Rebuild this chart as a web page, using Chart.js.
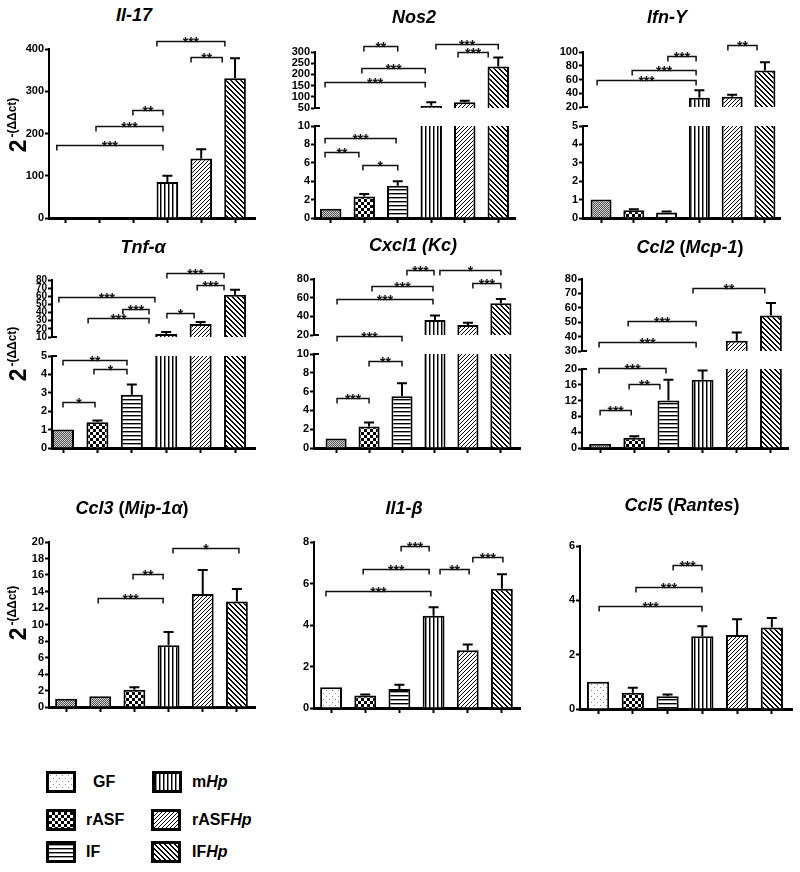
<!DOCTYPE html>
<html>
<head>
<meta charset="utf-8">
<script src="https://cdn.jsdelivr.net/npm/chart.js@4.4.0/dist/chart.umd.min.js"></script>
<style>
  body { margin: 0; width: 800px; height: 872px; background: #fff; position: relative; overflow: hidden;
         font-family: "Liberation Sans", Arial, sans-serif; color: #000; }
  canvas { position: absolute; }
  .title { position: absolute; font-weight: bold; font-size: 18px; line-height: 18px; white-space: nowrap;
           transform: translateX(-50%); }
  .ylab { position: absolute; white-space: nowrap; font-weight: bold; font-size: 23px;
          transform: translate(-50%, -50%) rotate(-90deg); }
  .ylab sup { font-size: 12px; vertical-align: 10px; margin-left: 2px; }
  .legbox { position: absolute; border: 3px solid #000; }
  .leglab { position: absolute; font-weight: bold; font-size: 16px; line-height: 16px; white-space: nowrap; }
</style>
</head>
<body>
<script>
const groups = ["GF", "rASF", "IF", "mHp", "rASFHp", "IFHp"];

// Il-17
const il17Values = [1, 0.9, 1.2, 85, 141, 331];
const il17Errors = [0, 0, 0, 15, 22, 47];
const il17Ticks = [0, 400, 100];
const il17Sig = [[-0.27, 2.87, 173, "***"], [0.89, 2.87, 218, "***"], [1.98, 2.87, 256, "**"],
                 [3.7, 4.62, 381, "**"], [2.69, 4.7, 419, "***"]];

// Nos2
const nos2Values = [1.0, 2.35, 3.5, 60, 76, 235];
const nos2Errors = [0, 0.25, 0.5, 16, 6, 40];
const nos2TicksHigh = [50, 300, 50];
const nos2TicksLow = [0, 10, 2];
const nos2SigHigh = [[0.99, 2.0, 325, "**"], [0.93, 2.82, 227, "***"], [-0.17, 2.82, 167, "***"],
                     [3.14, 5.0, 337, "***"], [3.8, 4.7, 299, "***"]];
const nos2SigLow = [[-0.17, 1.95, 8.7, "***"], [-0.17, 0.84, 7.2, "**"], [0.96, 2.0, 5.76, "*"]];

// Ifn-g
const ifngValues = [1.0, 0.42, 0.3, 33.5, 34.8, 73];
const ifngErrors = [0, 0.06, 0.05, 11, 3.2, 12];
const ifngTicksHigh = [20, 100, 20];
const ifngTicksLow = [0, 5, 1];
const ifngSigHigh = [[2.04, 2.9, 94.8, "***"], [0.95, 2.9, 73.4, "***"], [-0.12, 2.9, 60, "***"],
                     [3.87, 4.76, 110, "**"]];
const ifngSigLow = [];

// Tnf-a
const tnfValues = [1.0, 1.4, 2.9, 13.7, 26, 62];
const tnfErrors = [0, 0.1, 0.55, 2.3, 2.5, 6];
const tnfTicksHigh = [10, 80, 10];
const tnfTicksLow = [0, 5, 1];
const tnfSigHigh = [[3.02, 4.68, 89, "***"], [3.9, 4.68, 74, "***"], [-0.12, 2.67, 59, "***"],
                    [1.74, 2.5, 45, "***"], [0.73, 2.5, 33, "***"], [3.02, 3.81, 39, "*"]];
const tnfSigLow = [[0, 1.86, 4.8, "**"], [0.9, 1.86, 4.3, "*"], [0, 0.93, 2.48, "*"]];

// Cxcl1 (Kc)
const cxcl1Values = [1.0, 2.3, 5.5, 36.2, 30.6, 53.9];
const cxcl1Errors = [0, 0.4, 1.4, 4.8, 2.4, 4.8];
const cxcl1TicksHigh = [20, 80, 20];
const cxcl1TicksLow = [0, 10, 2];
const cxcl1SigHigh = [[2.15, 2.97, 89.7, "***"], [3.15, 5.0, 90, "*"], [1.09, 2.94, 72, "***"],
                      [4.15, 5.0, 76, "***"], [0.03, 2.94, 58.7, "***"], [0.03, 2.0, 18.4, "***"]];
const cxcl1SigLow = [[1.0, 2.0, 9.26, "**"], [0.03, 1.0, 5.3, "***"]];

// Ccl2 (Mcp-1)
const ccl2Values = [1.0, 2.6, 12.0, 17.3, 37.1, 54.7];
const ccl2Errors = [0, 0.4, 5.3, 2.3, 5.8, 8.6];
const ccl2TicksHigh = [30, 80, 10];
const ccl2TicksLow = [0, 20, 4];
const ccl2SigHigh = [[2.72, 4.82, 74, "**"], [0.82, 2.81, 50.9, "***"], [-0.03, 2.81, 36, "***"]];
const ccl2SigLow = [[-0.03, 1.93, 20.25, "***"], [0.85, 1.75, 16.2, "**"], [0, 0.91, 9.7, "***"]];

// Ccl3 (Mip-1a)
const ccl3Values = [1.0, 1.3, 2.1, 7.5, 13.7, 12.8];
const ccl3Errors = [0, 0, 0.3, 1.6, 2.9, 1.5];
const ccl3Ticks = [0, 20, 2];
const ccl3Sig = [[3.13, 5.06, 19.3, "*"], [1.96, 2.84, 16.1, "**"], [0.94, 2.84, 13.2, "***"]];

// Il1-b
const il1bValues = [1.0, 0.6, 0.92, 4.45, 2.78, 5.75];
const il1bErrors = [0, 0.05, 0.2, 0.4, 0.28, 0.7];
const il1bTicks = [0, 8, 2];
const il1bSig = [[2.05, 2.87, 7.79, "***"], [0.94, 2.87, 6.71, "***"], [3.19, 4.04, 6.7, "**"],
                 [4.15, 5.03, 7.26, "***"], [-0.15, 2.92, 5.62, "***"]];

// Ccl5 (Rantes)
const ccl5Values = [1.0, 0.6, 0.47, 2.68, 2.72, 3.0];
const ccl5Errors = [0, 0.18, 0.06, 0.37, 0.58, 0.35];
const ccl5Ticks = [0, 6, 2];
const ccl5Sig = [[2.16, 2.99, 5.3, "***"], [1.09, 2.99, 4.48, "***"], [0.03, 2.99, 3.79, "***"]];

// hatch tiles
function tile(w, h, draw) {
  const c = document.createElement("canvas");
  c.width = w; c.height = h;
  const g = c.getContext("2d");
  g.fillStyle = "#fff"; g.fillRect(0, 0, w, h);
  draw(g);
  return c;
}
const tiles = {
  gfDense: tile(2, 2, g => { g.fillStyle = "#555"; g.fillRect(0, 0, 1, 1); g.fillRect(1, 1, 1, 1);
                             g.fillStyle = "#d0d0d0"; g.fillRect(1, 0, 1, 1); g.fillRect(0, 1, 1, 1); }),
  gfSparse: tile(6, 6, g => { g.fillStyle = "#888"; g.fillRect(1, 1, 1, 1); g.fillRect(4, 4, 1, 1); }),
  checker: tile(6, 6, g => { g.fillStyle = "#000"; g.fillRect(3, 0, 3, 3); g.fillRect(0, 3, 3, 3); }),
  hlines: tile(1, 4, g => { g.fillStyle = "#000"; g.fillRect(0, 0, 1, 1); g.fillStyle = "#999"; g.fillRect(0, 1, 1, 1); }),
  vlines: tile(4, 1, g => { g.fillStyle = "#000"; g.fillRect(0, 0, 1, 1); g.fillStyle = "#888"; g.fillRect(1, 0, 1, 1); }),
  diagR: tile(4, 4, g => { g.fillStyle = "#000"; for (let i = 0; i < 4; i++) g.fillRect(i, 3 - i, 1, 1); }),
  diagL: tile(5, 5, g => { g.fillStyle = "#000"; for (let i = 0; i < 5; i++) { g.fillRect(i, i, 1, 1); g.fillRect((i + 1) % 5, i, 1, 1); } })
};
const pctx = document.createElement("canvas").getContext("2d");
const patterns = {};
for (const k in tiles) patterns[k] = pctx.createPattern(tiles[k], "repeat");

const fillsA = ["gfDense", "checker", "hlines", "vlines", "diagR", "diagL"];
const fillsB = ["gfDense", "gfDense", "checker", "vlines", "diagR", "diagL"];
const fillsC = ["gfSparse", "checker", "hlines", "vlines", "diagR", "diagL"];

const panels = [
  { title: "<i>Il-17</i>", tx: 134, ty: 15, box: [0, 25, 265, 207], left: 49, right: 255, xr: [-0.5, 5.59],
    fills: fillsA, values: il17Values, errors: il17Errors,
    segs: [{ top: 49, bottom: 218, ticks: il17Ticks, sig: il17Sig }] },
  { title: "<i>Nos2</i>", tx: 414, ty: 17, box: [265, 25, 265, 207], left: 315, right: 515, xr: [-0.47, 5.5],
    fills: fillsA, values: nos2Values, errors: nos2Errors,
    segs: [{ top: 52, bottom: 114, ticks: nos2TicksHigh, sig: nos2SigHigh, part: "high" },
           { top: 126, bottom: 218, ticks: nos2TicksLow, sig: nos2SigLow, part: "low" }] },
  { title: "<i>Ifn-Υ</i>", tx: 667, ty: 17, box: [530, 25, 270, 207], left: 583, right: 780, xr: [-0.55, 5.46],
    fills: fillsA, values: ifngValues, errors: ifngErrors,
    segs: [{ top: 52, bottom: 113, ticks: ifngTicksHigh, sig: ifngSigHigh, part: "high" },
           { top: 126, bottom: 218, ticks: ifngTicksLow, sig: ifngSigLow, part: "low" }] },
  { title: "<i>Tnf-α</i>", tx: 143, ty: 247, box: [0, 255, 265, 205], left: 52, right: 255, xr: [-0.32, 5.58],
    fills: fillsA, values: tnfValues, errors: tnfErrors,
    segs: [{ top: 280, bottom: 343, ticks: tnfTicksHigh, sig: tnfSigHigh, part: "high", fontSize: 10 },
           { top: 356, bottom: 448, ticks: tnfTicksLow, sig: tnfSigLow, part: "low" }] },
  { title: "<i>Cxcl1 (Kc)</i>", tx: 413, ty: 245, box: [265, 255, 265, 205], left: 314, right: 520, xr: [-0.67, 5.58],
    fills: fillsA, values: cxcl1Values, errors: cxcl1Errors,
    segs: [{ top: 279, bottom: 341, ticks: cxcl1TicksHigh, sig: cxcl1SigHigh, part: "high" },
           { top: 354, bottom: 448, ticks: cxcl1TicksLow, sig: cxcl1SigLow, part: "low" }] },
  { title: "<i>Ccl2</i> (<i>Mcp-1</i>)", tx: 690, ty: 247, box: [530, 255, 270, 205], left: 582, right: 788, xr: [-0.53, 5.5],
    fills: fillsA, values: ccl2Values, errors: ccl2Errors,
    segs: [{ top: 279, bottom: 357, ticks: ccl2TicksHigh, sig: ccl2SigHigh, part: "high" },
           { top: 369, bottom: 448, ticks: ccl2TicksLow, sig: ccl2SigLow, part: "low" }] },
  { title: "<i>Ccl3</i> (<i>Mip-1α</i>)", tx: 132, ty: 508, box: [0, 515, 265, 207], left: 49, right: 255, xr: [-0.5, 5.53],
    fills: fillsB, values: ccl3Values, errors: ccl3Errors,
    segs: [{ top: 542, bottom: 707, ticks: ccl3Ticks, sig: ccl3Sig }] },
  { title: "<i>Il1-β</i>", tx: 404, ty: 508, box: [265, 515, 265, 207], left: 314, right: 520, xr: [-0.5, 5.53],
    fills: fillsC, values: il1bValues, errors: il1bErrors,
    segs: [{ top: 542, bottom: 708, ticks: il1bTicks, sig: il1bSig }] },
  { title: "<i>Ccl5</i> (<i>Rantes</i>)", tx: 682, ty: 505, box: [530, 515, 270, 207], left: 580, right: 792, xr: [-0.52, 5.58],
    fills: fillsC, values: ccl5Values, errors: ccl5Errors,
    segs: [{ top: 546, bottom: 709, ticks: ccl5Ticks, sig: ccl5Sig }] }
];

function overlay(p, seg) {
  return {
    id: "overlay",
    afterDatasetsDraw(chart) {
      const { ctx, chartArea: a, scales: { x, y } } = chart;
      // error bars, clipped to the segment
      ctx.save();
      ctx.beginPath();
      ctx.rect(a.left, a.top - 1, a.right - a.left, a.bottom - a.top + 1);
      ctx.clip();
      ctx.strokeStyle = "#000";
      ctx.lineWidth = 2;
      p.values.forEach((v, i) => {
        const e = p.errors[i];
        if (!e) return;
        const px = x.getPixelForValue(i);
        const y0 = y.getPixelForValue(v), y1 = y.getPixelForValue(v + e);
        ctx.beginPath();
        ctx.moveTo(px, y0); ctx.lineTo(px, y1);
        ctx.moveTo(px - 5, y1); ctx.lineTo(px + 5, y1);
        ctx.stroke();
      });
      ctx.restore();

      // significance brackets
      ctx.save();
      ctx.strokeStyle = "#111";
      ctx.fillStyle = "#111";
      ctx.lineWidth = 1.5;
      ctx.font = "bold 14px 'Liberation Sans', Arial";
      ctx.textAlign = "center";
      ctx.textBaseline = "alphabetic";
      for (const [a1, a2, v, lab] of seg.sig) {
        const x1 = x.getPixelForValue(a1), x2 = x.getPixelForValue(a2);
        const yy = Math.round(y.getPixelForValue(v)) + 0.5;
        ctx.beginPath();
        ctx.moveTo(x1, yy + 5); ctx.lineTo(x1, yy); ctx.lineTo(x2, yy); ctx.lineTo(x2, yy + 5);
        ctx.stroke();
        ctx.fillText(lab, (x1 + x2) / 2, yy + 5);
      }
      // break marks on the axis
      if (seg.part) {
        const by = seg.part === "high" ? a.bottom : a.top;
        ctx.strokeStyle = "#000";
        ctx.lineWidth = 2;
        ctx.beginPath();
        ctx.moveTo(a.left, by); ctx.lineTo(a.left + 5, by);
        ctx.stroke();
      }
      ctx.restore();
    }
  };
}

function drawSegment(p, seg, k) {
  const [bx, by, bw, bh] = p.box;
  const showX = k === p.segs.length - 1;
  const cv = document.createElement("canvas");
  cv.width = bw; cv.height = bh;
  cv.style.left = bx + "px"; cv.style.top = by + "px";
  document.body.appendChild(cv);
  const [lo, hi, step] = seg.ticks;
  new Chart(cv, {
    type: "bar",
    data: {
      datasets: [{
        data: p.values.map((v, i) => ({ x: i, y: v })),
        backgroundColor: p.fills.map(f => patterns[f]),
        borderColor: "#000",
        borderWidth: 2,
        categoryPercentage: 1,
        barPercentage: 0.64,
        clip: 0
      }]
    },
    options: {
      responsive: false,
      animation: false,
      events: [],
      layout: { padding: { left: p.left - bx - 40, right: bx + bw - p.right, top: seg.top - by,
                           bottom: by + bh - seg.bottom - (showX ? 6 : 0) } },
      plugins: { legend: { display: false }, tooltip: { enabled: false } },
      scales: {
        x: {
          type: "linear", display: showX, min: p.xr[0], max: p.xr[1], bounds: "data", offset: false,
          afterBuildTicks: s => { s.ticks = groups.map((g, i) => ({ value: i })); },
          afterFit: s => { s.height = 6; },
          ticks: { display: false },
          grid: { drawOnChartArea: false, drawTicks: true, tickLength: 5, tickWidth: 2, tickColor: "#000", offset: false },
          border: { display: true, color: "#000", width: 3 }
        },
        y: {
          min: lo, max: hi, bounds: "data",
          afterFit: s => { s.width = 40; },
          ticks: { stepSize: step, autoSkip: false, color: "#000", padding: 1,
                   font: { family: "'Liberation Sans', Arial", size: seg.fontSize || 11, weight: "bold" } },
          grid: { drawOnChartArea: false, drawTicks: true, tickLength: 4, tickWidth: 2, tickColor: "#000" },
          border: { display: true, color: "#000", width: 2 }
        }
      }
    },
    plugins: [overlay(p, seg)]
  });
}

panels.forEach(p => {
  p.segs.forEach((seg, k) => drawSegment(p, seg, k));
  const t = document.createElement("div");
  t.className = "title";
  t.innerHTML = p.title;
  t.style.left = p.tx + "px";
  t.style.top = (p.ty - 9) + "px";
  document.body.appendChild(t);
});

// y axis titles
[[18, 125], [18, 354], [18, 613]].forEach(([x, y]) => {
  const d = document.createElement("div");
  d.className = "ylab";
  d.innerHTML = "2<sup>-(ΔΔct)</sup>";
  d.style.left = x + "px";
  d.style.top = y + "px";
  document.body.appendChild(d);
});

// legend
const legendFills = ["gfSparse", "checker", "hlines", "vlines", "diagR", "diagL"];
const legendPos = [[46, 771, 93], [46, 809, 86], [46, 841, 86], [152, 771, 192], [151, 809, 192], [151, 841, 192]];
groups.forEach((g, i) => {
  const [x, y, tx] = legendPos[i];
  const c = document.createElement("canvas");
  c.className = "legbox";
  c.width = 24; c.height = 16;
  c.style.left = x + "px"; c.style.top = y + "px";
  const lc = c.getContext("2d");
  lc.fillStyle = patterns[legendFills[i]];
  lc.fillRect(0, 0, 24, 16);
  document.body.appendChild(c);
  const l = document.createElement("div");
  l.className = "leglab";
  l.innerHTML = g.replace(/Hp$/, "<i>Hp</i>");
  l.style.left = tx + "px";
  l.style.top = (y + 3) + "px";
  document.body.appendChild(l);
});
</script>
</body>
</html>
